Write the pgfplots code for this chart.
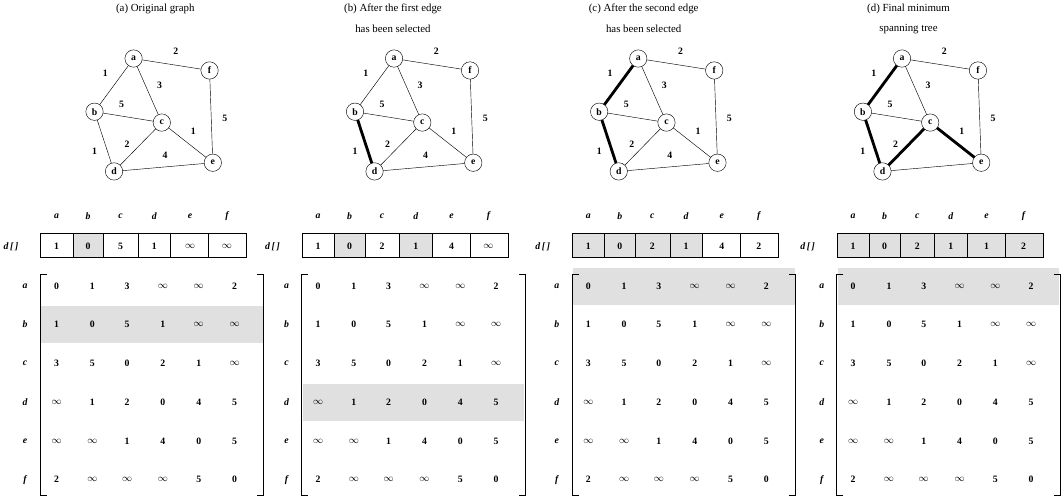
\documentclass[border=0pt]{standalone}
\usepackage{pgfplots}
\pgfplotsset{compat=1.18}
\usepackage{pgfplotstable}
\usepackage{fontspec}
\setmainfont{Liberation Serif}
\pgfplotstableread{
x y l
133 89 a
203 100 f
97 138 b
159 148 c
115 193 d
206 185 e
}\verts
\pgfplotstableread{
x y l
172 82 2
107 103 1
157 114 3
122 131 5
217 144 5
188 156 1
127 168 2
97 174 1
162 178 4
}\wts
\pgfplotstableread{
x y l
62 234 a
91 234 b
121 234 c
152 234 d
185 234 e
219 234 f
20 262 {d\,[\,]}
33 299 a
33 334 b
33 370 c
33 406 d
33 442 e
33 477 f
}\heads
\pgfplotstableread{
x y l
62 299 0
95 299 1
127 299 3
160 299 $\infty$
193 299 $\infty$
226 299 2
62 334 1
95 334 0
127 334 5
160 334 1
193 334 $\infty$
226 334 $\infty$
62 370 3
95 370 5
127 370 0
160 370 2
193 370 1
226 370 $\infty$
62 406 $\infty$
95 406 1
127 406 2
160 406 0
193 406 4
226 406 5
62 442 $\infty$
95 442 $\infty$
127 442 1
160 442 4
193 442 0
226 442 5
62 477 2
95 477 $\infty$
127 477 $\infty$
160 477 $\infty$
193 477 5
226 477 0
}\mat
\newcommand\edge[3]{\addplot[black,#3] coordinates {(#1) (#2)};}
\newcommand\panel[3]{%
 \addplot[fill=black!12,draw=none] coordinates {(48+#2,#3-17) (252+#2,#3-17) (252+#2,#3+17) (48+#2,#3+17)} --cycle;
 \addplot[black,line width=1pt] coordinates {(53+#2,288) (47+#2,288) (47+#2,492) (53+#2,492)};
 \addplot[black,line width=1pt] coordinates {(247+#2,288) (253+#2,288) (253+#2,492) (247+#2,492)};
 \addplot[draw=black,thin] coordinates {(47+#2,250) (237+#2,250) (237+#2,272) (47+#2,272)} --cycle;
 \addplot[black,thin] coordinates {(77+#2,250) (77+#2,272)};
 \addplot[black,thin] coordinates {(105+#2,250) (105+#2,272)};
 \addplot[black,thin] coordinates {(137+#2,250) (137+#2,272)};
 \addplot[black,thin] coordinates {(167+#2,250) (167+#2,272)};
 \addplot[black,thin] coordinates {(202+#2,250) (202+#2,272)};
 \addplot[only marks,mark=none,nodes near coords,point meta=explicit symbolic,
   nodes near coords style={anchor=center,font=\bfseries\itshape\small}] table[x expr=\thisrow{x}+#2,y=y,meta=l] {\heads};
 \addplot[only marks,mark=none,nodes near coords,point meta=explicit symbolic,
   nodes near coords style={anchor=center,font=\bfseries\small}] table[x expr=\thisrow{x}+#2,y=y,meta=l] {\mat};
 \edge{133+#1,89}{203+#1,100}{}
 \edge{133+#1,89}{97+#1,138}{}
 \edge{133+#1,89}{159+#1,148}{}
 \edge{203+#1,100}{206+#1,185}{}
 \edge{97+#1,138}{159+#1,148}{}
 \edge{97+#1,138}{115+#1,193}{}
 \edge{159+#1,148}{115+#1,193}{}
 \edge{159+#1,148}{206+#1,185}{}
 \edge{115+#1,193}{206+#1,185}{}
}
\newcommand\verticesat[1]{%
 \addplot[only marks,mark=*,mark size=8,mark options={fill=white,draw=black,thin},
   nodes near coords,point meta=explicit symbolic,
   nodes near coords style={anchor=center,font=\bfseries\small}] table[x expr=\thisrow{x}+#1,y=y,meta=l] {\verts};
}
\newcommand\weightsat[1]{%
 \addplot[only marks,mark=none,nodes near coords,point meta=explicit symbolic,
   nodes near coords style={anchor=center,font=\bfseries\small}] table[x expr=\thisrow{x}+#1,y=y,meta=l] {\wts};
}
\newcommand\cell[3]{\addplot[fill=black!12,draw=black,thin] coordinates {(#1+#3,250) (#2+#3,250) (#2+#3,272) (#1+#3,272)} --cycle;}
\begin{document}
\begin{tikzpicture}
\begin{axis}[scale only axis,width=1061pt,height=484pt,xmin=0,xmax=1061,ymin=0,ymax=484,
  y dir=reverse,axis lines=none,clip=false]
\panel{0}{0}{334}
\panel{240}{241}{406}
\panel{465}{490}{299}
\panel{708}{734}{299}
\cell{77}{105}{0}
\cell{77}{105}{241}\cell{137}{167}{241}
\cell{47}{77}{490}\cell{77}{105}{490}\cell{105}{137}{490}\cell{137}{167}{490}
\cell{47}{77}{734}\cell{77}{105}{734}\cell{105}{137}{734}\cell{137}{167}{734}\cell{167}{202}{734}\cell{202}{237}{734}
\edge{97+240,138}{115+240,193}{line width=2.6pt}
\edge{133+465,89}{97+465,138}{line width=2.6pt}
\edge{97+465,138}{115+465,193}{line width=2.6pt}
\edge{133+708,89}{97+708,138}{line width=2.6pt}
\edge{97+708,138}{115+708,193}{line width=2.6pt}
\edge{159+708,148}{115+708,193}{line width=2.6pt}
\edge{159+708,148}{206+708,185}{line width=2.6pt}
\verticesat{0}\verticesat{240}\verticesat{465}\verticesat{708}
\weightsat{0}\weightsat{240}\weightsat{465}
\addplot[only marks,mark=none,nodes near coords,point meta=explicit symbolic,
   nodes near coords style={anchor=center,font=\bfseries\small}] table[meta=l] {
x y l
880 82 2
815 103 1
865 114 3
830 131 5
925 144 5
896 156 1
835 168 2
805 174 1
};
\addplot[only marks,mark=none,nodes near coords,point meta=explicit symbolic,
   nodes near coords style={anchor=center,font=\bfseries\small}] table[meta=l] {
x y l
62 262 1
91 262 0
121 262 5
152 262 1
185 262 $\infty$
219 262 $\infty$
303 262 1
332 262 0
362 262 2
393 262 1
426 262 4
460 262 $\infty$
552 262 1
581 262 0
611 262 2
642 262 1
675 262 4
709 262 2
796 262 1
825 262 0
855 262 2
886 262 1
919 262 1
953 262 2
};
\addplot[only marks,mark=none,nodes near coords,point meta=explicit symbolic,
   nodes near coords style={anchor=center,font=\normalsize}] table[meta=l] {
x y l
153 43 {(a) Original graph}
372 43 {(b) After the first edge}
372 62 {has been selected}
603 43 {(c) After the second edge}
603 62 {has been selected}
847 43 {(d) Final minimum}
847 62 {spanning tree}
};
\end{axis}
\end{tikzpicture}
\end{document}
